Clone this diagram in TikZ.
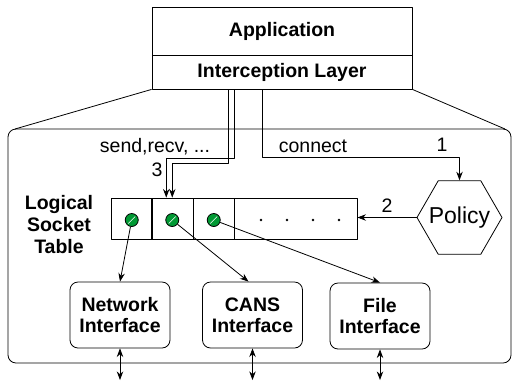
\documentclass[tikz,border=0pt]{standalone}
\usepackage{fontspec}
\setmainfont{Liberation Sans}
\usetikzlibrary{arrows.meta}
\usetikzlibrary{calc}
\usetikzlibrary{positioning}
\usetikzlibrary{shapes.geometric}
\definecolor{green1}{RGB}{0,153,51}

\tikzset{
	layer/.style={draw, minimum width=260pt, inner sep=0pt, font=\bfseries\fontsize{19.5}{19.5}\selectfont},
	cell/.style={draw, minimum width=41.5pt, minimum height=41pt, inner sep=0pt},
	sock/.style={circle, draw, fill=green1, minimum size=13pt, inner sep=0pt},
	iface/.style={draw, rounded corners=8pt, minimum width=100pt, minimum height=66pt, align=center, inner sep=0pt, font=\bfseries\fontsize{19.5}{21}\selectfont},
}

\begin{document}
\begin{tikzpicture}[x=1pt,y=-1pt]
	\begin{scope}[>={Stealth[scale=1.3]}, line width=0.8pt, line join=round, font=\fontsize{19.5}{19.5}\selectfont]
	\useasboundingbox (0,0) rectangle (513,381);

% application stack
\node[layer, minimum height=48pt] (app) at (282,31) {Application};
\node[layer, minimum height=34pt] (intercept) at (282,72) {Interception Layer};

% zoomed view
\draw (intercept.south west) -- (15,129);
\draw (intercept.south east) -- (505,129);
\draw[rounded corners=8pt] (8,129) rectangle (511,363);

% socket table
\foreach \i/\x in {1/131.75,2/172.25,3/213.75}
{
	\node[cell] (c\i) at (\x,218.5) {};
	\node[sock] (s\i) at (\x,220) {};
	\draw[white, line width=0.6pt] ($(s\i)+(-3.5,3.5)$) -- ($(s\i)+(3.5,-3.5)$);
}
\node[cell, minimum width=122.5pt] (rest) at (295.75,218.5) {};
\foreach \x in {261,287,313,339}
{
	\fill (\x,220) circle (1.3pt);
}
\node[align=center, font=\bfseries\fontsize{19.5}{22}\selectfont] (tbl) at (59,225) {Logical\\Socket\\Table};

% interfaces
\node[iface] (net) at (120,315) {Network\\Interface};
\node[iface] (cans) at (252.5,315) {CANS\\Interface};
\node[iface] (file) at (380,316) {File\\Interface};

\draw[->] (s1) -- (net.north);
\draw[->] (s2) -- ([xshift=-4pt]cans.north);
\draw[->] (s3) -- (file.north);

\foreach \n in {net,cans,file}
{
	\draw[<->] (\n.south) -- (\n.south |- 0,380);
}

% policy
\node[regular polygon, regular polygon sides=6, draw, minimum size=85pt, inner sep=0pt, label={[font=\fontsize{23}{23}\selectfont]center:Policy}] (policy) at (459.5,217.5) {};

\draw[->] (policy.west) -- (policy.west -| rest.east) node[midway, above=1pt] {2};
\draw[->] ([xshift=-20pt]intercept.south) -- ++(0,68) -| (policy.north);
\node (conn) at (313,146) {connect};
\node (one) at (442,145) {1};

\draw[->] ([xshift=-48pt]intercept.south) -- ++(0,69) -| ([xshift=-6pt]c2.north);
\draw[->] ([xshift=-54pt]intercept.south) -- ++(0,74) -| (c2.north);
\node (calls) at (155,147) {send,recv, ...};
\node (three) at (157,170) {3};

	\end{scope}
\end{tikzpicture}
\end{document}
